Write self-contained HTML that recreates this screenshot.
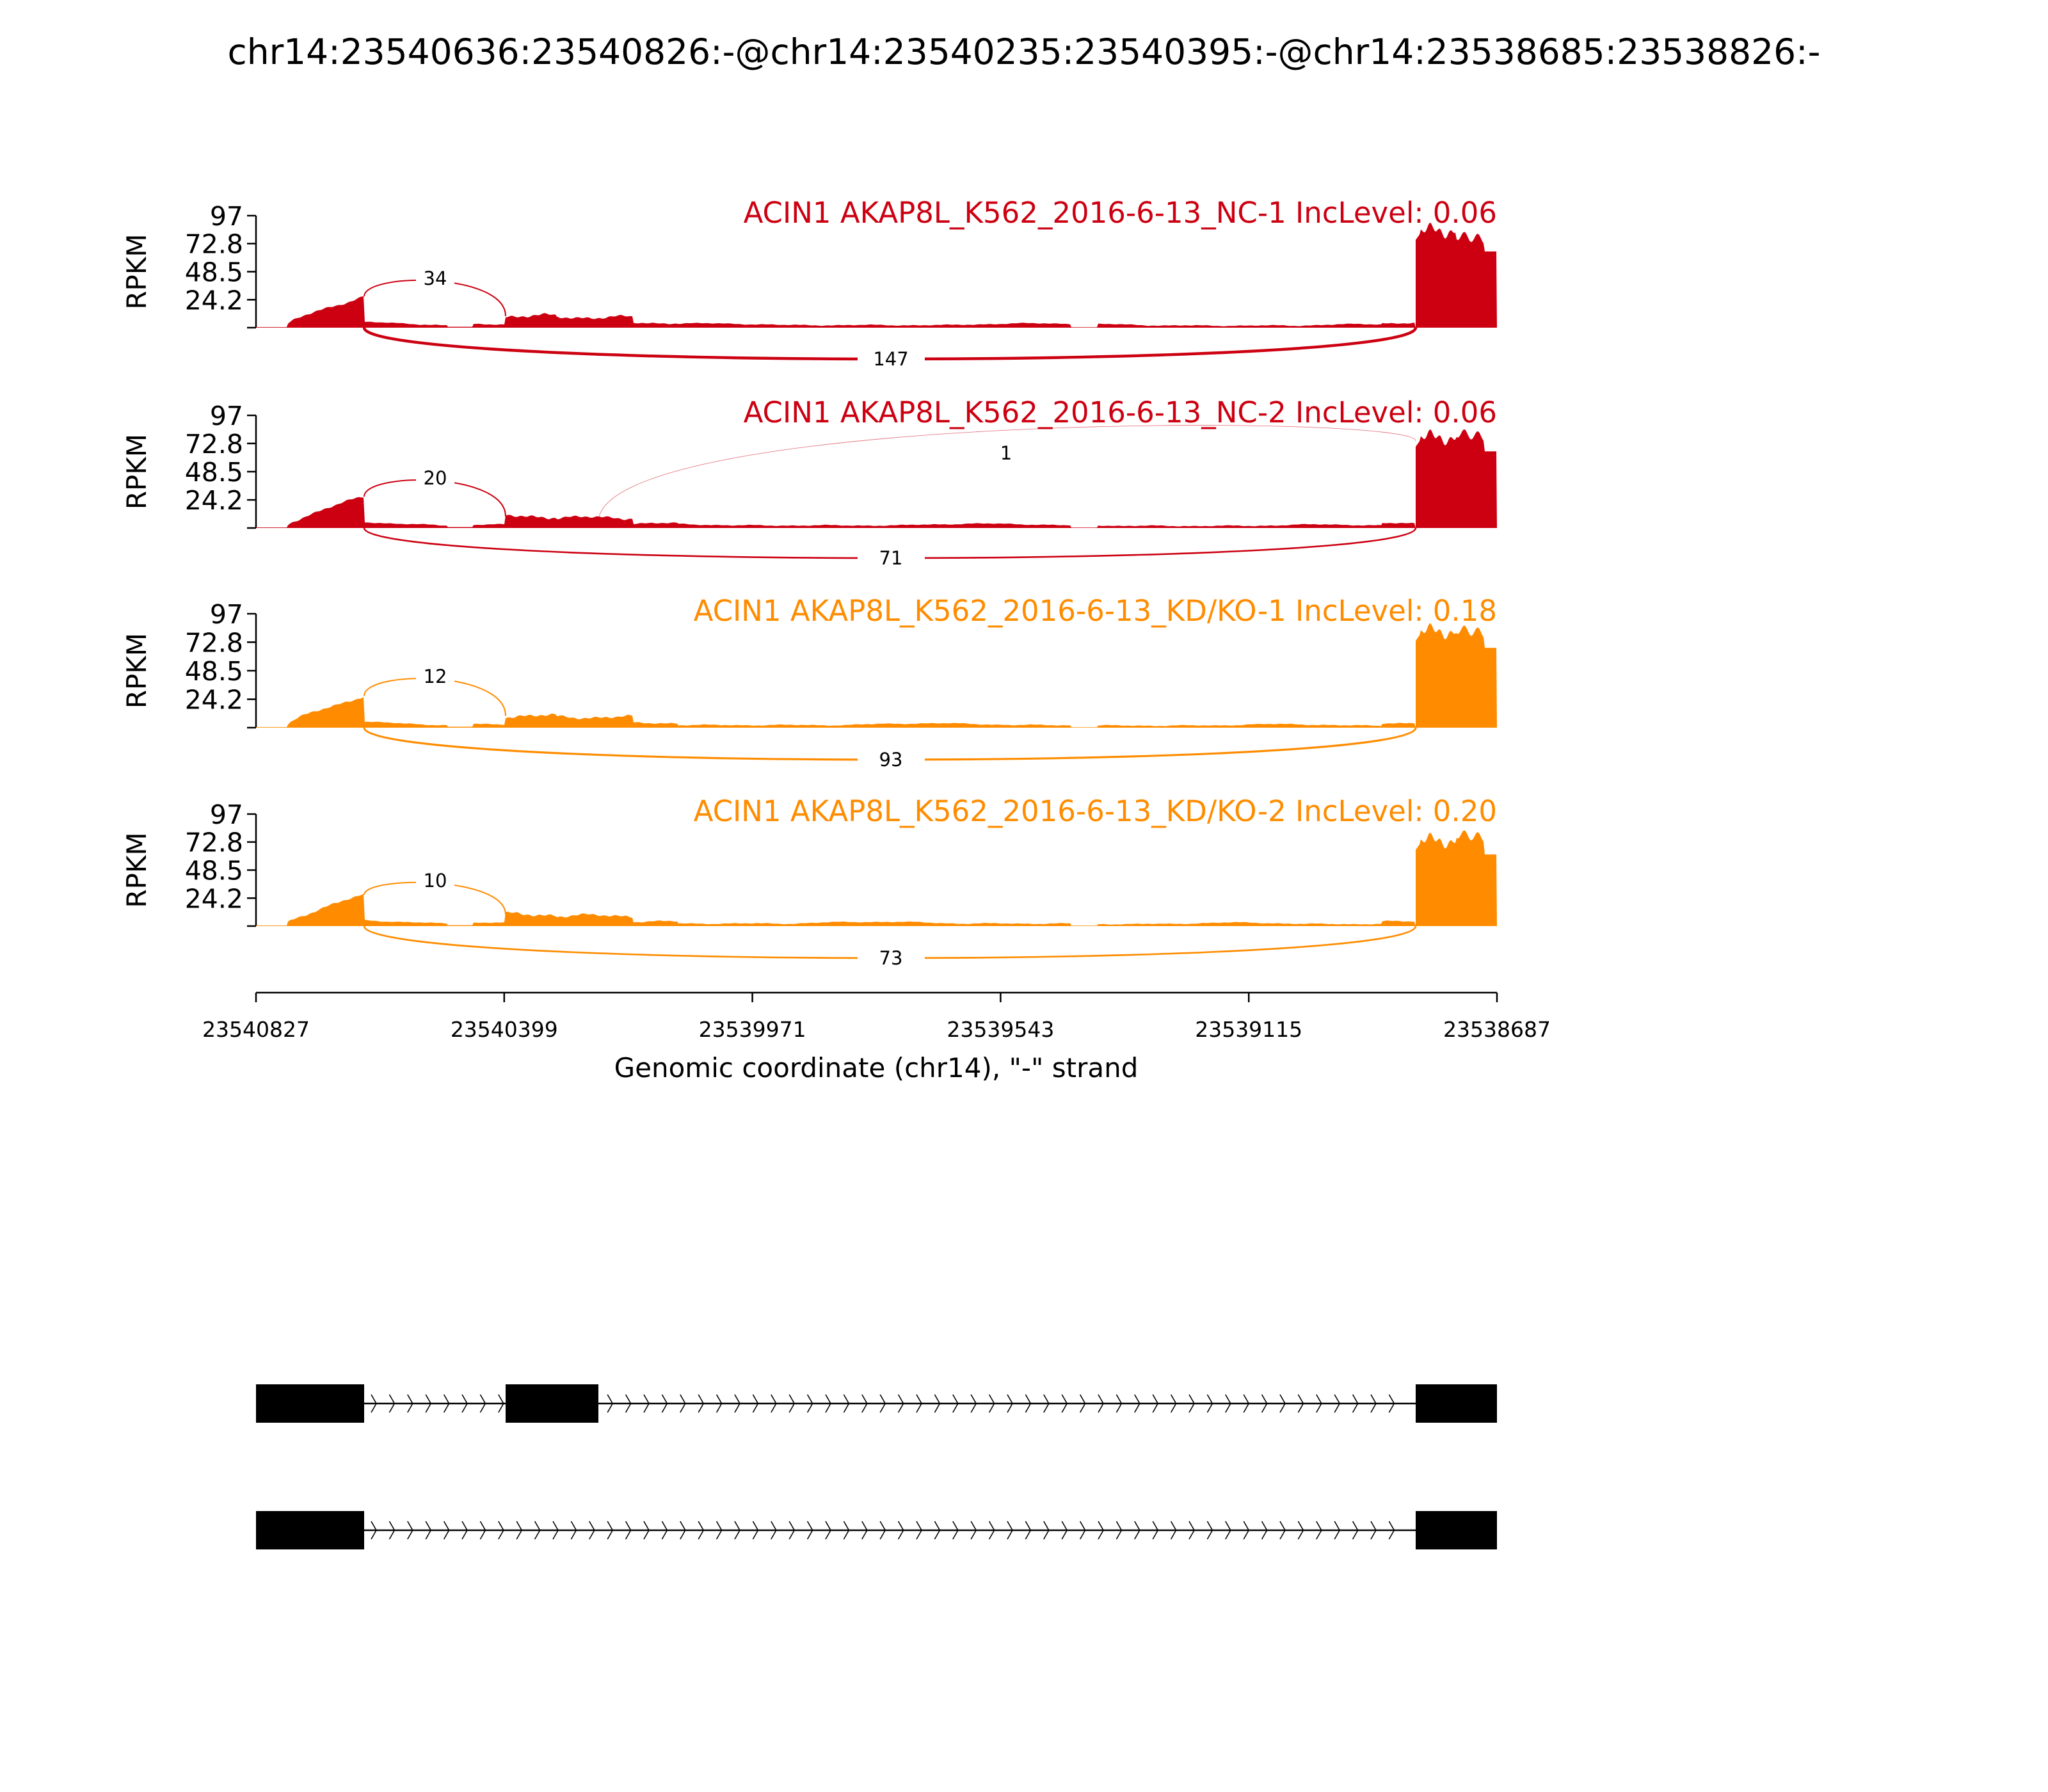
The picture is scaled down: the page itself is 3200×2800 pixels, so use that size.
<!DOCTYPE html>
<html><head><meta charset="utf-8">
<style>
html,body{margin:0;padding:0;background:#fff;}
svg{display:block;font-family:"DejaVu Sans","Liberation Sans",sans-serif;}
</style></head>
<body>
<svg id="s" width="3200" height="2800" xmlns="http://www.w3.org/2000/svg">
<rect width="3200" height="2800" fill="#fff"/>
<text x="1600" y="100" font-size="55" text-anchor="middle">chr14:23540636:23540826:-@chr14:23540235:23540395:-@chr14:23538685:23538826:-</text>
</svg>
<script>
var S=document.getElementById('s'),NS='http://www.w3.org/2000/svg';
function el(t,a,txt){var e=document.createElementNS(NS,t);for(var k in a)e.setAttribute(k,a[k]);if(txt!=null)e.textContent=txt;S.appendChild(e);return e;}
var X0=400,X1=2339;
var panels=[
 {top:337,bot:512,col:'#CC0011',title:'ACIN1 AKAP8L_K562_2016-6-13_NC-1 IncLevel: 0.06',up:'34',upY:435,low:'147',lowY:561,lw:4.5,seed:1,e3:[84,88,80,66]},
 {top:649,bot:825,col:'#CC0011',title:'ACIN1 AKAP8L_K562_2016-6-13_NC-2 IncLevel: 0.06',up:'20',upY:747,low:'71',lowY:872,lw:2.6,seed:2,e3:[78,76,82,66],one:true},
 {top:959,bot:1137,col:'#FF8C00',title:'ACIN1 AKAP8L_K562_2016-6-13_KD/KO-1 IncLevel: 0.18',up:'12',upY:1057,low:'93',lowY:1187,lw:3.2,seed:3,e3:[82,85,84,68]},
 {top:1272,bot:1447,col:'#FF8C00',title:'ACIN1 AKAP8L_K562_2016-6-13_KD/KO-2 IncLevel: 0.20',up:'10',upY:1376,low:'73',lowY:1497,lw:2.7,seed:4,e3:[74,76,80,62]}
];
function cov(x,sd){
 var n=Math.sin(x*0.37+sd)*0.5+Math.sin(x*0.11+sd*2)*0.7+Math.sin(x*0.05+sd*3);
 if(x<450) return 0.5;
 if(x<569){var t=(x-450)/119;return Math.max(0,3+24*Math.pow(t,0.8)+n*0.8);}
 if(x<700) return 5-3*(x-569)/131+n*0.3;
 if(x<740) return 0.8;
 if(x<790) return 3+n*0.3;
 if(x<870) return 10+n*1.2;
 if(x<990) return 9+n*1;
 if(x<1060) return 4+n*0.5;
 if(x<1674) return 2.2+Math.max(0,Math.sin(x*0.012+sd))*1.5+n*0.3;
 if(x<1715) return 0.4;
 if(x<2160) return 1.8+Math.max(0,Math.sin(x*0.015+sd))*1.2+n*0.3;
 if(x<2212) return 4+n*0.4;
 return 0;
}
panels.forEach(function(p){
 var h=p.bot-p.top, k=h/97;
 el('line',{x1:X0,y1:p.top,x2:X0,y2:p.bot,stroke:'#000','stroke-width':2.5});
 [[97,'97'],[72.8,'72.8'],[48.5,'48.5'],[24.2,'24.2'],[0,'']].forEach(function(t){
  var y=p.bot-t[0]*k;
  el('line',{x1:X0-14,y1:y,x2:X0,y2:y,stroke:'#000','stroke-width':2.5});
  if(t[1])el('text',{x:X0-20,y:y+15,'font-size':41,'text-anchor':'end'},t[1]);
 });
 el('text',{x:0,y:0,'font-size':42,'text-anchor':'middle',transform:'translate(228,'+((p.top+p.bot)/2)+') rotate(-90)'},'RPKM');
 el('text',{x:X1,y:p.top+11,'font-size':45,'text-anchor':'end',fill:p.col},p.title);
 var d='M'+X0+' '+p.bot;
 for(var x=X0;x<2212;x+=2){d+=' L'+x+' '+(p.bot-cov(x,p.seed)*k).toFixed(1);}
 d+=' L2212 '+p.bot;
 var e=p.e3;
 for(var x=2212;x<=X1;x+=2){var t=(x-2212)/127;var v;
  if(t<0.05)v=e[0]-8+ t*100; else if(t<0.5)v=e[0]+Math.sin(x*0.4)*3+Math.sin(x*0.13)*4;
  else if(t<0.85)v=e[2]+Math.sin(x*0.3)*4-(t-0.5)*10; else v=e[3];
  d+=' L'+x+' '+(p.bot-v*k).toFixed(1);}
 d+=' L'+X1+' '+p.bot+' Z';
 el('path',{d:d,fill:p.col});
 var y1=p.bot-27*k,y2=p.bot-10*k,yc=y1+(p.upY-y1)/0.75;
 el('path',{d:'M569 '+y1+' C569 '+yc+' 790 '+yc+' 790 '+y2,fill:'none',stroke:p.col,'stroke-width':2});
 el('rect',{x:650,y:p.upY-18,width:60,height:36,fill:'#fff'});
 el('text',{x:680,y:p.upY+10,'font-size':29,'text-anchor':'middle'},p.up);
 var yl=p.bot+(p.lowY-p.bot)/0.75;
 el('path',{d:'M569 '+p.bot+' C569 '+yl+' 2212 '+yl+' 2212 '+p.bot,fill:'none',stroke:p.col,'stroke-width':p.lw});
 el('rect',{x:1340,y:p.lowY-18,width:105,height:36,fill:'#fff'});
 el('text',{x:1392,y:p.lowY+10,'font-size':29,'text-anchor':'middle'},p.low);
 if(p.one){
  var ys=p.bot-5*k,ye=p.bot-75*k,pk=688,yc2=ys+(pk-ys)/0.75;
  el('path',{d:'M935 '+ys+' C935 '+yc2+' 2212 '+yc2+' 2212 '+ye,fill:'none',stroke:p.col,'stroke-width':0.8,'stroke-opacity':0.6});
  el('rect',{x:1550,y:690,width:44,height:36,fill:'#fff'});
  el('text',{x:1572,y:718,'font-size':29,'text-anchor':'middle'},'1');
 }
});
el('line',{x1:X0,y1:1551,x2:X1,y2:1551,stroke:'#000','stroke-width':2.5});
['23540827','23540399','23539971','23539543','23539115','23538687'].forEach(function(l,i){
 var x=X0+i*(X1-X0)/5;
 el('line',{x1:x,y1:1551,x2:x,y2:1566,stroke:'#000','stroke-width':2.5});
 el('text',{x:x,y:1620,'font-size':33,'text-anchor':'middle'},l);
});
el('text',{x:1369,y:1683,'font-size':42,'text-anchor':'middle'},'Genomic coordinate (chr14), "-" strand');
function track(yc,exons){
 el('line',{x1:569,y1:yc,x2:2212,y2:yc,stroke:'#000','stroke-width':2.5});
 var d='';
 for(var x=585;x<2200;x+=28.4){
  var inEx=exons.some(function(e){return x>e[0]-6&&x<e[1]+4;});
  if(inEx)continue;
  d+='M'+(x-5)+' '+(yc-14)+' L'+(x+3)+' '+yc+' L'+(x-5)+' '+(yc+14)+' ';
 }
 el('path',{d:d,fill:'none',stroke:'#000','stroke-width':1.6});
 exons.forEach(function(e){el('rect',{x:e[0],y:yc-30,width:e[1]-e[0],height:60,fill:'#000'});});
}
track(2193,[[400,569],[790,935],[2212,2339]]);
track(2391,[[400,569],[2212,2339]]);
</script>
</body></html>
